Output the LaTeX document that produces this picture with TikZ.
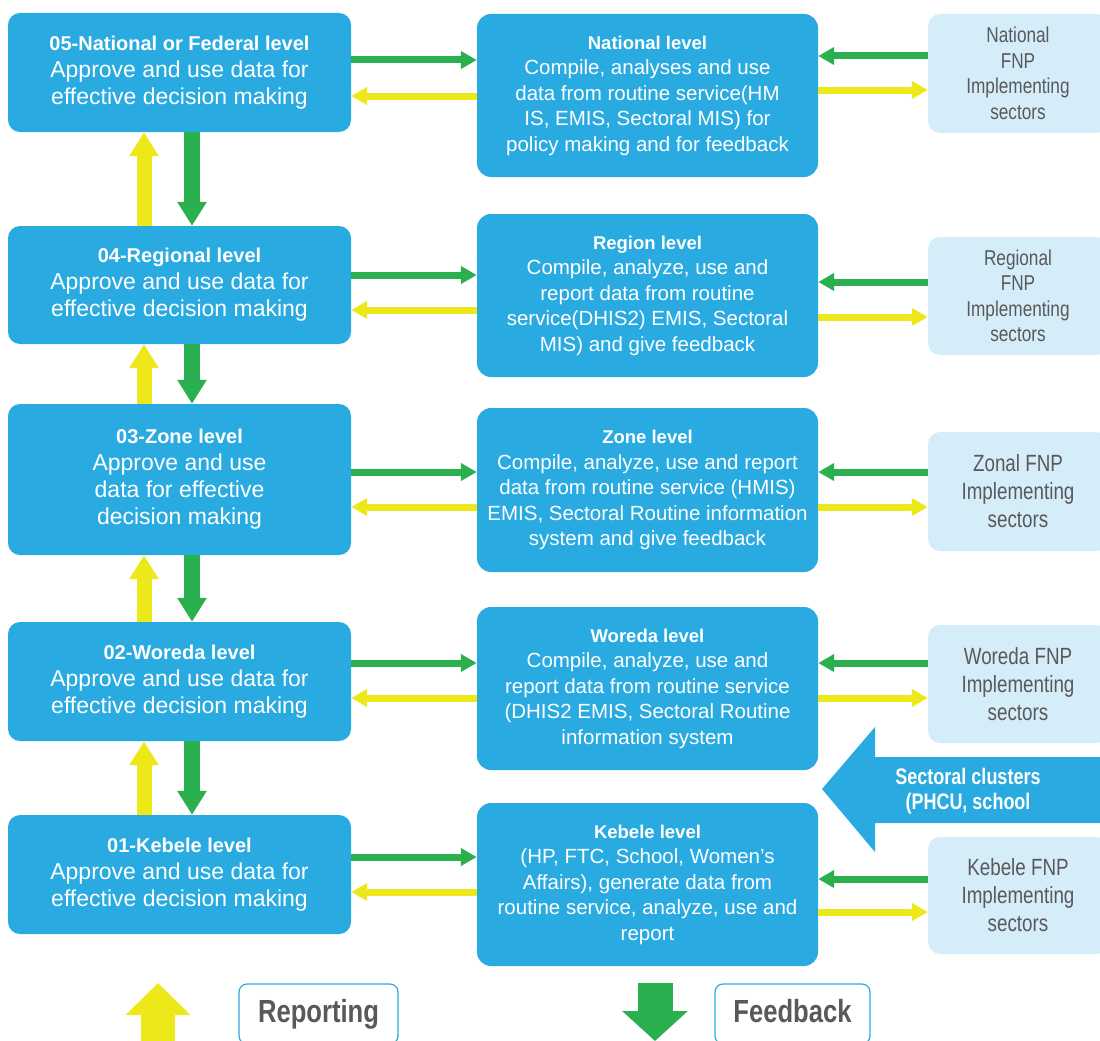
\documentclass[tikz,border=0pt]{standalone}
\usepackage{fontspec}
\setmainfont{Liberation Sans}
\newfontfamily\condfont{Liberation Sans}[FakeStretch=0.8]
\usepackage{xcolor}
\usepackage{tikz}
\usetikzlibrary{arrows.meta}
\newcommand{\lvlhead}[1]{{\bfseries\fontsize{20}{24}\selectfont #1}}
\newcommand{\unithead}[1]{{\bfseries\fontsize{18.5}{22}\selectfont #1}}
\definecolor{levelblue}{HTML}{29ABE2}
\definecolor{paleblue}{HTML}{D5EDF8}
\definecolor{fbgreen}{HTML}{2BB04F}
\definecolor{repyellow}{HTML}{EDE81A}
\definecolor{textgray}{HTML}{58595B}

\begin{document}
\begin{tikzpicture}[
    x=1pt, y=-1pt,
    level/.style={fill=levelblue,text=white,rounded corners=12pt,
                  minimum width=343pt,align=center,inner sep=0pt,
                  font=\fontsize{23}{27}\selectfont},
    unit/.style={fill=levelblue,text=white,rounded corners=14pt,
                 minimum width=341pt,minimum height=163pt,align=center,
                 inner sep=0pt,font=\fontsize{20.5}{25.5}\selectfont},
    sector/.style={fill=paleblue,text=textgray,rounded corners=12pt,
                   minimum width=180pt,align=center,inner sep=0pt,
                   font=\condfont\fontsize{21.5}{25.5}\selectfont},
    fbh/.style={draw=fbgreen,line width=7pt,-{Triangle[length=16pt,width=17pt]}},
    reph/.style={draw=repyellow,line width=7pt,-{Triangle[length=16pt,width=17pt]}},
    fbv/.style={draw=fbgreen,line width=16pt,-{Triangle[length=24pt,width=28pt]}},
    repv/.style={draw=repyellow,line width=15pt,-{Triangle[length=24pt,width=28pt]}},
    keybox/.style={draw=levelblue,line width=1.2pt,fill=white,rounded corners=8pt,
                   minimum height=60pt,text height=24pt,text depth=7pt,text=textgray,
                   font=\condfont\bfseries\fontsize{32}{36}\selectfont}
  ]
    \useasboundingbox (0,0) rectangle (1100,1041);
    \clip (0,0) rectangle (1100,1041);

    % levels
    \node[level, minimum height=119pt] (l5) at (179.5,72.5)
      {\lvlhead{05-National or Federal level}\\Approve and use data for\\effective decision making};
    \node[level, minimum height=118pt] (l4) at (179.5,285)
      {\lvlhead{04-Regional level}\\Approve and use data for\\effective decision making};
    \node[level, minimum height=151pt] (l3) at (179.5,479.5)
      {\lvlhead{03-Zone level}\\Approve and use\\data for effective\\decision making};
    \node[level, minimum height=119pt] (l2) at (179.5,681.5)
      {\lvlhead{02-Woreda level}\\Approve and use data for\\effective decision making};
    \node[level, minimum height=119pt] (l1) at (179.5,874.5)
      {\lvlhead{01-Kebele level}\\Approve and use data for\\effective decision making};

    \node[unit] (m5) at (647.5,95.5)
      {\unithead{National level}\\Compile, analyses and use\\data from routine service(HM\\IS, EMIS, Sectoral MIS) for\\policy making and for feedback};
    \node[unit] (m4) at (647.5,295.5)
      {\unithead{Region level}\\Compile, analyze, use and\\report data from routine\\service(DHIS2) EMIS, Sectoral\\MIS) and give feedback};
    \node[unit, minimum height=164pt] (m3) at (647.5,490)
      {\unithead{Zone level}\\Compile, analyze, use and report\\data from routine service (HMIS)\\EMIS, Sectoral Routine information\\system and give feedback};
    \node[unit] (m2) at (647.5,688.5)
      {\unithead{Woreda level}\\Compile, analyze, use and\\report data from routine service\\(DHIS2 EMIS, Sectoral Routine\\information system};
    \node[unit] (m1) at (647.5,884.5)
      {\unithead{Kebele level}\\(HP, FTC, School, Women's\\Affairs), generate data from\\routine service, analyze, use and\\report};

    \node[sector, minimum height=119pt] (r5) at (1018,73.5)
      {National\\FNP\\Implementing\\sectors};
    \node[sector, minimum height=118pt] (r4) at (1018,296)
      {Regional\\FNP\\Implementing\\sectors};
    \node[sector, minimum height=119pt, font=\condfont\fontsize{23.5}{28}\selectfont] (r3) at (1018,491.5)
      {Zonal FNP\\Implementing\\sectors};
    \node[sector, minimum height=118pt, font=\condfont\fontsize{23.5}{28}\selectfont] (r2) at (1018,684)
      {Woreda FNP\\Implementing\\sectors};
    \node[sector, minimum height=117pt, font=\condfont\fontsize{23.5}{28}\selectfont] (r1) at (1018,895.5)
      {Kebele FNP\\Implementing\\sectors};

    % sectoral clusters arrow
    \fill[levelblue] (822,789) -- (875,727) -- (875,757) -- (1100,757)
      -- (1100,823) -- (875,823) -- (875,852) -- cycle;
    \node[text=white, align=center, font=\condfont\bfseries\fontsize{22.5}{25}\selectfont] (clusters) at (968,791)
      {Sectoral clusters\\(PHCU, school};

    % feedback and reporting between levels
    \draw[repv] (l4.north -| 144,0) -- (l5.south -| 144,0);
    \draw[fbv] (l5.south -| 192,0) -- (l4.north -| 192,0);
    \draw[repv] (l3.north -| 144,0) -- (l4.south -| 144,0);
    \draw[fbv] (l4.south -| 192,0) -- (l3.north -| 192,0);
    \draw[repv] (l2.north -| 144,0) -- (l3.south -| 144,0);
    \draw[fbv] (l3.south -| 192,0) -- (l2.north -| 192,0);
    \draw[repv] (l1.north -| 144,0) -- (l2.south -| 144,0);
    \draw[fbv] (l2.south -| 192,0) -- (l1.north -| 192,0);

    \draw[fbh] (l5.east |- 0,60) -- (m5.west |- 0,60);
    \draw[reph] (m5.west |- 0,96) -- (l5.east |- 0,96);
    \draw[fbh] (r5.west |- 0,56) -- (m5.east |- 0,56);
    \draw[reph] (m5.east |- 0,90) -- (r5.west |- 0,90);

    \draw[fbh] (l4.east |- 0,275) -- (m4.west |- 0,275);
    \draw[reph] (m4.west |- 0,310) -- (l4.east |- 0,310);
    \draw[fbh] (r4.west |- 0,282) -- (m4.east |- 0,282);
    \draw[reph] (m4.east |- 0,317) -- (r4.west |- 0,317);

    \draw[fbh] (l3.east |- 0,472) -- (m3.west |- 0,472);
    \draw[reph] (m3.west |- 0,507) -- (l3.east |- 0,507);
    \draw[fbh] (r3.west |- 0,472) -- (m3.east |- 0,472);
    \draw[reph] (m3.east |- 0,507) -- (r3.west |- 0,507);

    \draw[fbh] (l2.east |- 0,663) -- (m2.west |- 0,663);
    \draw[reph] (m2.west |- 0,698) -- (l2.east |- 0,698);
    \draw[fbh] (r2.west |- 0,663) -- (m2.east |- 0,663);
    \draw[reph] (m2.east |- 0,698) -- (r2.west |- 0,698);

    \draw[fbh] (l1.east |- 0,857) -- (m1.west |- 0,857);
    \draw[reph] (m1.west |- 0,892) -- (l1.east |- 0,892);
    \draw[fbh] (r1.west |- 0,879) -- (m1.east |- 0,879);
    \draw[reph] (m1.east |- 0,912) -- (r1.west |- 0,912);

    % key
    \draw[repyellow, line width=34pt, -{Triangle[length=32pt,width=63pt]}] (158,1060) -- (158,983);
    \node[keybox, minimum width=159pt] (repkey) at (318.5,1014) {Reporting};
    \draw[fbgreen, line width=35pt, -{Triangle[length=30pt,width=64pt]}] (655,983) -- (655,1041);
    \node[keybox, minimum width=155pt] (fbkey) at (792.5,1014) {Feedback};
\end{tikzpicture}
\end{document}
